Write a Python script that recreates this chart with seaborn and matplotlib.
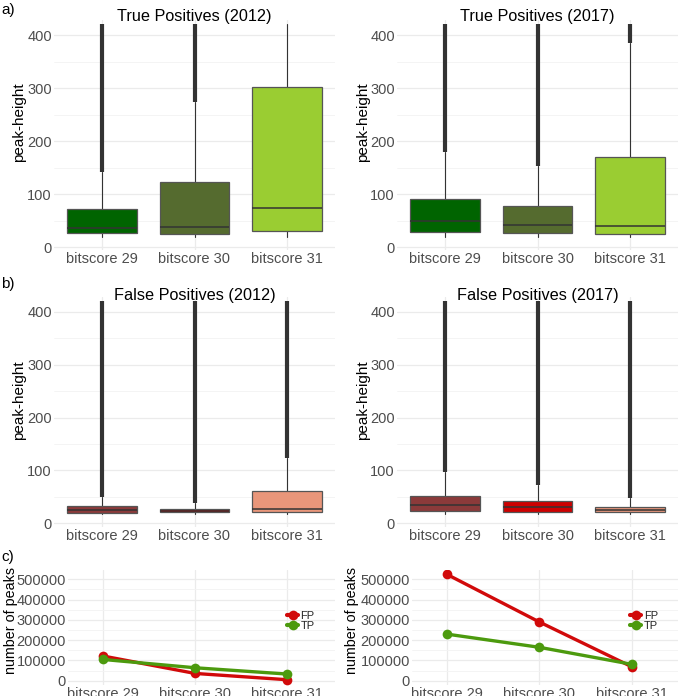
import numpy as np
import pandas as pd
import matplotlib
matplotlib.use('Agg')
import matplotlib.pyplot as plt
import seaborn as sns

# categories
cats = ['bitscore 29', 'bitscore 30', 'bitscore 31']

# box stats (whisker low, q1, median, q3, whisker high)
tp2012_low = [19, 19, 19]
tp2012_q1 = [26, 24, 31]
tp2012_med = [35, 38, 74]
tp2012_q3 = [72, 123, 302]
tp2012_high = [142, 274, 420]

tp2017_low = [19, 19, 19]
tp2017_q1 = [28, 26, 25]
tp2017_med = [49, 41, 39]
tp2017_q3 = [90, 77, 169]
tp2017_high = [180, 152, 385]

fp2012_low = [18, 18, 18]
fp2012_q1 = [20, 21, 21]
fp2012_med = [26, 24, 28]
fp2012_q3 = [33, 28, 62]
fp2012_high = [50, 39, 124]

fp2017_low = [18, 18, 18]
fp2017_q1 = [24, 22, 21]
fp2017_med = [34, 30, 25]
fp2017_q3 = [52, 42, 30]
fp2017_high = [97, 72, 47]

# outliers run from the upper whisker up to the axis cut-off
flier_top = 420

# number of peaks
peaks_2012_fp = [122000, 36000, 5000]
peaks_2012_tp = [105000, 64000, 33000]
peaks_2017_fp = [525000, 290000, 69000]
peaks_2017_tp = [230000, 165000, 81000]

tp_colors = ['#006400', '#556B2F', '#9ACD32']
fp_colors = ['#8B3A3A', '#CD0000', '#E9967A']

sns.set_theme(style='whitegrid')
plt.rcParams['font.family'] = ['Liberation Sans', 'DejaVu Sans']

W, H = 685, 696
fig = plt.figure(figsize=(W / 100, H / 100), dpi=100)


def px_axes(left, top, right, bottom):
    return fig.add_axes([left / W, 1 - bottom / H, (right - left) / W, (bottom - top) / H])


def style(ax):
    ax.set_facecolor('white')
    for s in ax.spines.values():
        s.set_visible(False)
    ax.grid(True, which='major', color='#EBEBEB', lw=0.9)
    ax.grid(True, which='minor', axis='y', color='#F3F3F3', lw=0.6)
    ax.tick_params(axis='both', length=0, pad=1.5, labelsize=10.5, labelcolor='#4D4D4D')
    ax.set_xlabel('')
    ax.set_ylabel('')


def box_panel(ax, low, q1, med, q3, high, colors):
    stats = []
    for i in range(len(cats)):
        stats.append(dict(whislo=low[i], q1=q1[i], med=med[i], q3=q3[i], whishi=high[i], fliers=[]))
    bp = ax.bxp(stats, positions=range(len(cats)), widths=0.75, showfliers=False, showcaps=False,
                patch_artist=True,
                boxprops=dict(edgecolor='#555555', lw=0.9),
                medianprops=dict(color='#333333', lw=1.1),
                whiskerprops=dict(color='#333333', lw=0.8))
    for patch, c in zip(bp['boxes'], colors):
        patch.set_facecolor(c)
        patch.set_zorder(3)
    for m in bp['medians']:
        m.set_zorder(4)
    for i in range(len(cats)):
        if high[i] < flier_top:
            ax.vlines(i, high[i], flier_top, color='#333333', lw=3, zorder=2)
    ax.set_xticks(range(len(cats)))
    ax.set_xticklabels(cats)
    ax.set_xlim(-0.52, 2.52)
    ax.set_ylim(-6, 428)
    ax.set_yticks([0, 100, 200, 300, 400])
    ax.set_yticks([50, 150, 250, 350], minor=True)
    style(ax)


# row a
ax1 = px_axes(54, 20.2, 335, 250.2)
box_panel(ax1, tp2012_low, tp2012_q1, tp2012_med, tp2012_q3, tp2012_high, tp_colors)
ax2 = px_axes(397, 20.2, 678, 250.2)
box_panel(ax2, tp2017_low, tp2017_q1, tp2017_med, tp2017_q3, tp2017_high, tp_colors)

# row b
ax3 = px_axes(54, 296.9, 335, 526.5)
box_panel(ax3, fp2012_low, fp2012_q1, fp2012_med, fp2012_q3, fp2012_high, fp_colors)
ax4 = px_axes(397, 296.9, 678, 526.5)
box_panel(ax4, fp2017_low, fp2017_q1, fp2017_med, fp2017_q3, fp2017_high, fp_colors)


def line_panel(ax, fp, tp):
    df = pd.DataFrame({
        'x': list(range(len(cats))) * 2,
        'peaks': fp + tp,
        'type': ['FP'] * len(cats) + ['TP'] * len(cats),
    })
    sns.lineplot(data=df, x='x', y='peaks', hue='type', palette={'FP': '#D10A0A', 'TP': '#4C9A0E'},
                 marker='o', markersize=7, markeredgewidth=0, lw=2.4, ax=ax)
    ax.set_xticks(range(len(cats)))
    ax.set_xticklabels(cats)
    ax.set_ylim(-22000, 548000)
    ax.set_yticks([0, 100000, 200000, 300000, 400000, 500000])
    ax.set_yticks([50000, 150000, 250000, 350000, 450000], minor=True)
    style(ax)
    leg = ax.legend(loc='upper left', bbox_to_anchor=(0.8, 0.69), frameon=False, fontsize=8,
                    handlelength=1.0, handletextpad=0.2, labelspacing=0.0, borderpad=0)
    for h in leg.legend_handles:
        h.set_linewidth(3)


# row c
ax5 = px_axes(68, 569.6, 335, 685.2)
line_panel(ax5, peaks_2012_fp, peaks_2012_tp)
ax5.set_xlim(-0.38, 2.52)
ax6 = px_axes(412, 569.6, 678, 685.2)
line_panel(ax6, peaks_2017_fp, peaks_2017_tp)
ax6.set_xlim(-0.375, 2.5)

# titles
for ax, t, y in [(ax1, 'True Positives (2012)', 17), (ax2, 'True Positives (2017)', 17),
                 (ax3, 'False Positives (2012)', 295), (ax4, 'False Positives (2017)', 295)]:
    x0, x1 = ax.get_position().x0, ax.get_position().x1
    fig.text((x0 + x1) / 2, 1 - y / H, t, ha='center', va='center', fontsize=11.7, color='black')

# y labels
for x, y, t in [(19, 122, 'peak-height'), (363, 122, 'peak-height'),
                (19, 400, 'peak-height'), (363, 400, 'peak-height'),
                (11, 620, 'number of peaks'), (352, 620, 'number of peaks')]:
    fig.text(x / W, 1 - y / H, t, rotation=90, ha='center', va='center',
             fontsize=11 if t == 'peak-height' else 10.3, color='black')

# panel letters
for t, y in [('a)', 10), ('b)', 284), ('c)', 557)]:
    fig.text(1 / W, 1 - y / H, t, ha='left', va='center', fontsize=11, color='black')

fig.savefig('out.png', dpi=100)
